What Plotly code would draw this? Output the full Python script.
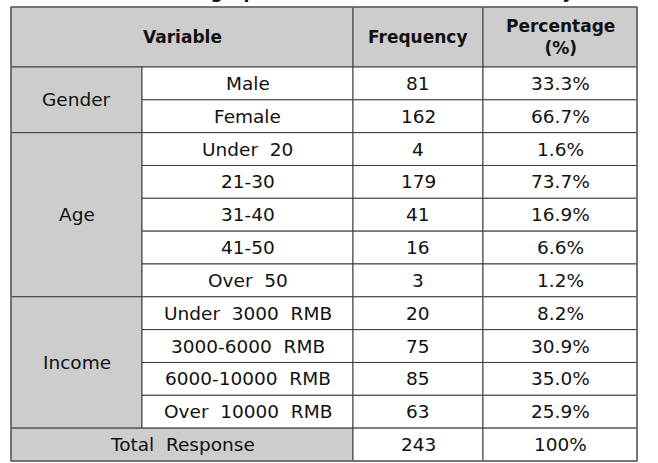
import plotly.graph_objects as go

# ---- data ----
headers = ["Variable", "Frequency", "Percentage<br>(%)"]
groups = ["Gender", "Age", "Income"]
group_sizes = [2, 5, 4]
categories = ["Male", "Female", "Under\u00a0 20", "21-30", "31-40", "41-50", "Over\u00a0 50",
              "Under\u00a0 3000\u00a0 RMB", "3000-6000\u00a0 RMB", "6000-10000\u00a0 RMB",
              "Over\u00a0 10000\u00a0 RMB"]
frequencies = [81, 162, 4, 179, 41, 16, 3, 20, 75, 85, 63]
percentages = ["33.3%", "66.7%", "1.6%", "73.7%", "16.9%", "6.6%", "1.2%",
               "8.2%", "30.9%", "35.0%", "25.9%"]
total_label = "Total\u00a0 Response"
total_frequency = 243
total_percentage = "100%"
title_text = "Table 1. Demographic characteristics of the survey"

# ---- layout geometry (styles) ----
W, H = 658, 463
col_edges = [11, 142, 353, 483, 637]
top = 7
header_h = 60
row_h = 32.83
GRAY = "#cdcdcd"
LINE = "#3c3c3c"
FONT = "DejaVu Sans, sans-serif"
FS = 18.5
HFS = 17

n_rows = len(categories) + 1
row_top = [top + header_h + i * row_h for i in range(n_rows)]
row_bot = [t + row_h for t in row_top]

shapes = []
annotations = []


def cell(x0, x1, y0, y1, fill, text, bold=False):
    shapes.append(dict(type="rect", xref="x", yref="y", x0=x0, x1=x1, y0=y0, y1=y1,
                       fillcolor=fill, line=dict(color=LINE, width=1), layer="below"))
    annotations.append(dict(x=(x0 + x1) / 2, y=(y0 + y1) / 2, xref="x", yref="y",
                            text=("<b>%s</b>" % text) if bold else text,
                            showarrow=False, xanchor="center", yanchor="middle",
                            font=dict(family=FONT, size=HFS if bold else FS,
                                      color="#111111")))


# header
hy0, hy1 = top, top + header_h
cell(col_edges[0], col_edges[2], hy0, hy1, GRAY, headers[0], bold=True)
cell(col_edges[2], col_edges[3], hy0, hy1, GRAY, headers[1], bold=True)
cell(col_edges[3], col_edges[4], hy0, hy1, GRAY, headers[2], bold=True)

# groups
start = 0
for g, n in zip(groups, group_sizes):
    cell(col_edges[0], col_edges[1], row_top[start], row_bot[start + n - 1], GRAY, g)
    start += n

# category rows
for i, (c, f, p) in enumerate(zip(categories, frequencies, percentages)):
    cell(col_edges[1], col_edges[2], row_top[i], row_bot[i], "white", c)
    cell(col_edges[2], col_edges[3], row_top[i], row_bot[i], "white", str(f))
    cell(col_edges[3], col_edges[4], row_top[i], row_bot[i], "white", p)

# total row
ti = len(categories)
cell(col_edges[0], col_edges[2], row_top[ti], row_bot[ti], GRAY, total_label)
cell(col_edges[2], col_edges[3], row_top[ti], row_bot[ti], "white", str(total_frequency))
cell(col_edges[3], col_edges[4], row_top[ti], row_bot[ti], "white", total_percentage)

# outer frame
shapes.append(dict(type="rect", xref="x", yref="y", x0=col_edges[0], x1=col_edges[-1],
                   y0=top, y1=row_bot[-1], line=dict(color="#6a6a6a", width=1.5)))

# clipped title (only descenders visible, as in the reference crop)
annotations.append(dict(x=322, y=3.5, xref="x", yref="y",
                        text="<b>%s</b>" % title_text, showarrow=False,
                        xanchor="center", yanchor="bottom", borderpad=0,
                        font=dict(family=FONT, size=17.5, color="#111111")))

fig = go.Figure()
fig.add_trace(go.Scatter(x=[0, W], y=[0, H], mode="markers", marker=dict(opacity=0),
                         hoverinfo="skip", showlegend=False))
fig.update_layout(width=W, height=H, margin=dict(l=0, r=0, t=0, b=0),
                  paper_bgcolor="white", plot_bgcolor="white",
                  xaxis=dict(range=[0, W], visible=False, fixedrange=True),
                  yaxis=dict(range=[H, 0], visible=False, fixedrange=True),
                  shapes=shapes, annotations=annotations, showlegend=False)
fig.write_html("out.html", config={"displayModeBar": False},
               post_script="document.body.style.margin='0';")
